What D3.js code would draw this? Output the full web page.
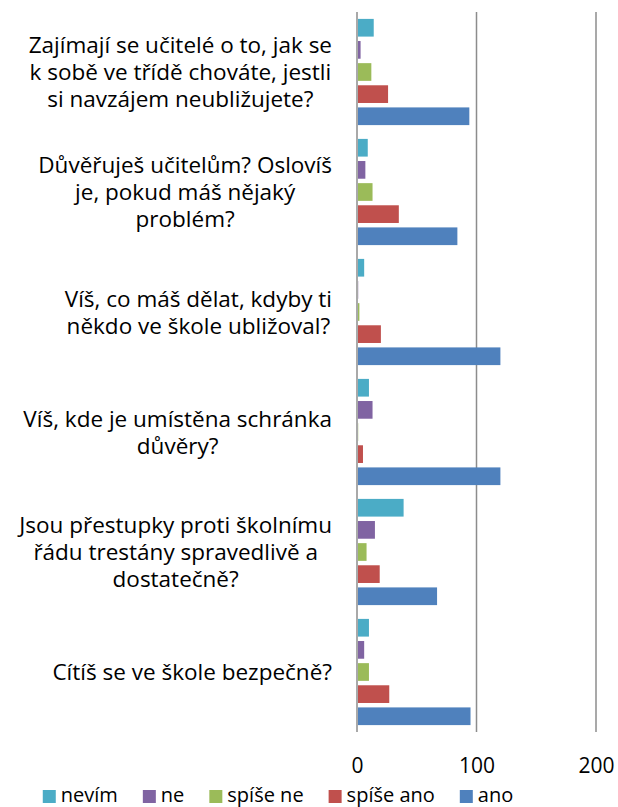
<!DOCTYPE html>
<html>
<head>
<meta charset="utf-8">
<script src="https://cdn.jsdelivr.net/npm/d3@7"></script>
<style>
  body { margin: 0; background: #fff; }
  text { font-family: "Open Sans", Lato, sans-serif; fill: #000; }
</style>
</head>
<body>
<div id="chart"></div>
<script>
// Questions, top to bottom, already split into lines as in the picture
const categories = [
    ["Zajímají se učitelé o to, jak se", "k sobě ve třídě chováte, jestli", "si navzájem neubližujete?"],
    ["Důvěřuješ učitelům? Oslovíš", "je, pokud máš nějaký", "problém?"],
    ["Víš, co máš dělat, kdyby ti", "někdo ve škole ubližoval?"],
    ["Víš, kde je umístěna schránka", "důvěry?"],
    ["Jsou přestupky proti školnímu", "řádu trestány spravedlivě a", "dostatečně?"],
    ["Cítíš se ve škole bezpečně?"]
];

const seriesNames = ["nevím", "ne", "spíše ne", "spíše ano", "ano"];
const seriesColors = ["#4BACC6", "#8064A2", "#9BBB59", "#C0504D", "#4F81BD"];

// values per series, same order as categories
const nevim    = [14, 9, 6, 10, 39, 10];
const ne       = [3, 7, 1, 13, 15, 6];
const spiseNe  = [12, 13, 2, 1, 8, 10];
const spiseAno = [26, 35, 20, 5, 19, 27];
const ano      = [94, 84, 120, 120, 67, 95];

const xTicks = [0, 100, 200];

const seriesValues = [nevim, ne, spiseNe, spiseAno, ano];

const W = 618, H = 807;
const plot = { left: 357, right: 596, top: 12, bottom: 732 };

const svg = d3.select("#chart")
    .append("svg")
    .attr("width", W)
    .attr("height", H);

const x = d3.scaleLinear()
    .domain([0, 200])
    .range([plot.left, plot.right]);

const y0 = d3.scaleBand()
    .domain(d3.range(categories.length))
    .range([plot.top, plot.bottom])
    .paddingInner(0.078)
    .paddingOuter(0.039);

const y1 = d3.scaleBand()
    .domain(seriesNames)
    .range([0, y0.bandwidth()])
    .paddingInner(0.2)
    .paddingOuter(0.1);

// gridlines
svg.append("g")
    .selectAll("line")
    .data(xTicks)
    .join("line")
    .attr("x1", d => x(d))
    .attr("x2", d => x(d))
    .attr("y1", plot.top)
    .attr("y2", plot.bottom)
    .attr("stroke", "#8c8c8c")
    .attr("stroke-width", 1.5);

// bars
categories.forEach((cat, i) => {
    const g = svg.append("g")
        .attr("transform", `translate(0,${y0(i)})`);
    seriesNames.forEach((name, s) => {
        const v = seriesValues[s][i];
        g.append("rect")
            .attr("x", x(0) + 1)
            .attr("y", y1(name))
            .attr("width", Math.max(0, x(v) - x(0) - 1))
            .attr("height", y1.bandwidth())
            .attr("fill", seriesColors[s]);
    });
});

// x axis tick labels
const xAxis = svg.append("g")
    .attr("transform", `translate(0,${plot.bottom})`)
    .call(d3.axisBottom(x).tickValues(xTicks).tickSize(0).tickPadding(26));
xAxis.select(".domain").remove();
xAxis.selectAll("text")
    .style("font-family", "'Open Sans', sans-serif")
    .style("font-size", "21px")
    .attr("fill", "#000");

// category labels: block right-aligned, lines centered in block
const labelRight = 332, lineH = 27;
categories.forEach((lines, i) => {
    const cy = y0(i) + y0.bandwidth() / 2;
    const t = svg.append("text")
        .attr("font-size", "22.5px")
        .attr("text-anchor", "middle");
    lines.forEach((ln, k) => {
        t.append("tspan")
            .attr("dy", k === 0 ? 0 : lineH)
            .text(ln);
    });
    const widths = t.selectAll("tspan").nodes().map(n => n.getComputedTextLength());
    const blockW = d3.max(widths);
    const cx = labelRight - blockW / 2;
    const firstY = cy - (lines.length - 1) * lineH / 2 + 8;
    t.selectAll("tspan").attr("x", cx);
    t.attr("y", firstY);
    t.select("tspan").attr("y", firstY);
});

// legend
const legend = svg.append("g");
const items = seriesNames.map((name, s) => {
    const g = legend.append("g");
    g.append("rect")
        .attr("width", 13)
        .attr("height", 13)
        .attr("y", 790)
        .attr("fill", seriesColors[s]);
    const tx = g.append("text")
        .attr("x", 18)
        .attr("y", 802)
        .attr("font-size", "20px")
        .text(name);
    return { g, w: 18 + tx.node().getComputedTextLength() };
});
const gap = 25;
const totalW = d3.sum(items, d => d.w) + gap * (items.length - 1);
let lx = 278 - totalW / 2;
items.forEach(it => {
    it.g.attr("transform", `translate(${lx},0)`);
    lx += it.w + gap;
});
</script>
</body>
</html>
